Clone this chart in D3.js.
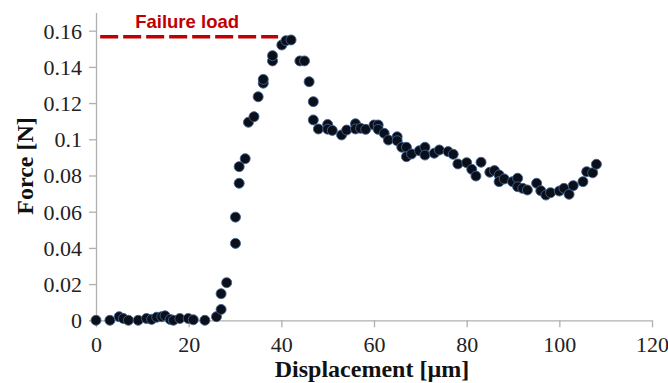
<!DOCTYPE html>
<html>
<head>
<meta charset="utf-8">
<script src="https://cdn.jsdelivr.net/npm/d3@7/dist/d3.min.js"></script>
<style>
  html, body { margin: 0; padding: 0; background: #fff; }
  svg { display: block; }
</style>
</head>
<body>
<svg id="chart" width="668" height="383"></svg>
<script>
// ---- data ----
const displacement = [
  0, 3, 5, 5.9, 7, 9.1, 10.9, 12, 13.1, 14.2, 14.9, 16, 16.7, 18.1, 19.9, 21, 23.5,
  26, 27, 27, 28.2, 30.1, 30.1, 30.9, 30.9, 32.2, 32.9, 34.1, 35, 36.1, 36.1, 38.1, 38.1,
  40.1, 41, 42.1, 44, 45, 46, 46.9, 46.9, 48, 50, 50, 51, 53, 54.1, 56, 56, 57.1, 58.2,
  60, 60.9, 60.9, 62.2, 63.1, 65, 65, 66, 67, 67, 68.1, 69.8, 71, 71, 73, 74.1, 76, 77.1,
  78.1, 80, 81.1, 82, 83.1, 85, 86, 87, 87, 88.1, 89.9, 91, 91, 92.1, 93.1, 95.1, 96,
  97.1, 98.1, 100, 101, 102.1, 103, 105.1, 105.9, 107.2, 108
];
const force = [
  0, 0, 0.002, 0.001, 0, 0, 0.001, 0.0005, 0.0017, 0.002, 0.0025, 0.0005, 0, 0.001, 0.001, 0.0003, 0,
  0.002, 0.006, 0.0147, 0.0208, 0.0425, 0.057, 0.0757, 0.0849, 0.0893, 0.1094, 0.1125, 0.1235, 0.131, 0.1331, 0.1433, 0.1462,
  0.1521, 0.1545, 0.1549, 0.1433, 0.1433, 0.1318, 0.1208, 0.1107, 0.1057, 0.1082, 0.1056, 0.1049, 0.1024, 0.1051, 0.1086, 0.1057, 0.1061, 0.1055,
  0.1079, 0.1079, 0.1055, 0.1033, 0.0996, 0.1014, 0.0992, 0.0956, 0.0956, 0.0904, 0.0919, 0.0937, 0.0956, 0.0913, 0.0923, 0.0941, 0.0932, 0.0917,
  0.0864, 0.0871, 0.0834, 0.0797, 0.0873, 0.0818, 0.0827, 0.0803, 0.0766, 0.0781, 0.0766, 0.0785, 0.0738, 0.0729, 0.072, 0.0757, 0.0716,
  0.0692, 0.0705, 0.0714, 0.0729, 0.0696, 0.0744, 0.0766, 0.0821, 0.0815, 0.0862
];
const failureLoad = 0.1567;
const failureSpan = [0.9, 39.3];
const failureLabel = "Failure load";
const xTicks = [0, 20, 40, 60, 80, 100, 120];
const yTicks = [0, 0.02, 0.04, 0.06, 0.08, 0.1, 0.12, 0.14, 0.16];
const yTickLabels = ["0", "0.02", "0.04", "0.06", "0.08", "0.1", "0.12", "0.14", "0.16"];
const xTitle = "Displacement [µm]";
const yTitle = "Force [N]";

// ---- layout ----
const svg = d3.select("#chart");
const x = d3.scaleLinear().domain([0, 120]).range([96, 652]);
const y = d3.scaleLinear().domain([0, 0.17]).range([320.3, 12.6]);
const axisColor = "#b0b0b0";
const serif = "'Liberation Serif', 'Times New Roman', serif";

// x axis
const xAxis = svg.append("g")
  .attr("transform", `translate(0,${y(0)})`)
  .call(d3.axisBottom(x).tickValues(xTicks).tickSize(7).tickSizeOuter(0).tickFormat(d3.format("d")));
xAxis.select(".domain").attr("stroke", axisColor).attr("stroke-width", 1.3);
xAxis.selectAll(".tick line").attr("stroke", axisColor).attr("stroke-width", 1.3);
xAxis.selectAll(".tick text")
  .attr("font-family", serif).attr("font-size", 22).attr("fill", "#222")
  .attr("y", 0).attr("dy", 31.5);

// y axis
const yAxis = svg.append("g")
  .attr("transform", `translate(${x(0)},0)`)
  .call(d3.axisLeft(y).tickValues(yTicks).tickSize(7).tickSizeOuter(0)
    .tickFormat((d, i) => yTickLabels[i]));
yAxis.select(".domain").attr("stroke", axisColor).attr("stroke-width", 1.3);
yAxis.selectAll(".tick line").attr("stroke", axisColor).attr("stroke-width", 1.3);
yAxis.selectAll(".tick text")
  .attr("font-family", serif).attr("font-size", 22).attr("fill", "#222")
  .attr("x", -14).attr("dy", "0.34em");

// failure load line
svg.append("line")
  .attr("x1", x(failureSpan[0])).attr("x2", x(failureSpan[1]))
  .attr("y1", y(failureLoad)).attr("y2", y(failureLoad))
  .attr("stroke", "#c00000").attr("stroke-width", 3.5)
  .attr("stroke-dasharray", "18,5");
svg.append("text")
  .attr("x", x((failureSpan[0] + failureSpan[1]) / 2) - 2)
  .attr("y", 28)
  .attr("text-anchor", "middle")
  .attr("font-family", "'Liberation Sans', Arial, sans-serif")
  .attr("font-weight", "bold").attr("font-size", 18.5)
  .attr("fill", "#c00000")
  .text(failureLabel);

// points
const pts = displacement.map((d, i) => ({ d, f: force[i] }));
svg.append("g").selectAll("circle").data(pts).join("circle")
  .attr("cx", p => x(p.d)).attr("cy", p => y(p.f))
  .attr("r", 5)
  .attr("fill", "#0b0f1a")
  .attr("stroke", "#3f6290").attr("stroke-width", 0.9);

// titles
svg.append("text")
  .attr("x", 372).attr("y", 377)
  .attr("text-anchor", "middle")
  .attr("font-family", serif).attr("font-weight", "bold").attr("font-size", 24)
  .attr("fill", "#111")
  .text(xTitle);
svg.append("text")
  .attr("transform", `translate(33,166) rotate(-90)`)
  .attr("text-anchor", "middle")
  .attr("font-family", serif).attr("font-weight", "bold").attr("font-size", 24)
  .attr("fill", "#111")
  .text(yTitle);
</script>
</body>
</html>
